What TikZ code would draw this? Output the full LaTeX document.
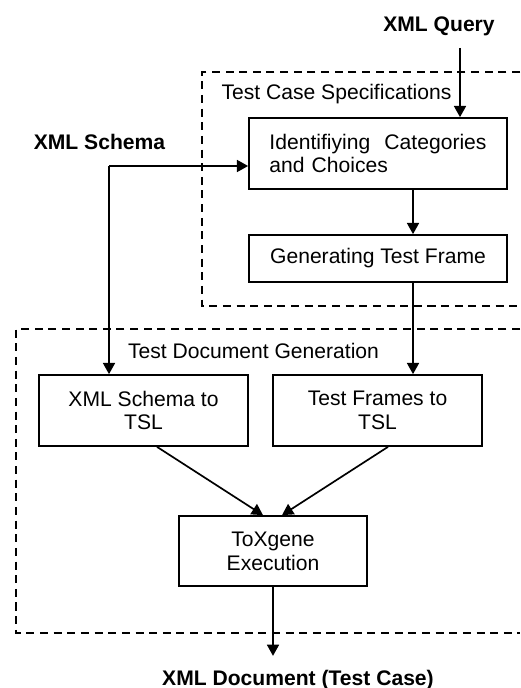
\documentclass[tikz,border=0pt]{standalone}
\usepackage{fontspec}
\setmainfont{Liberation Sans}
\usetikzlibrary{arrows.meta,calc}

\begin{document}
\begin{tikzpicture}[x=0.025cm,y=-0.025cm,
    font=\fontsize{15}{17}\selectfont,
    >={Triangle[length=0.28cm,width=0.3cm]},
    box/.style={rectangle,draw,line width=1.2pt,align=center,inner sep=0pt},
    wide/.style={box,minimum width=6.45cm},
    tsl/.style={box,minimum width=5.225cm,minimum height=1.775cm},
    group/.style={draw,line width=1pt,dash pattern=on 5.7pt off 4pt},
    flow/.style={->,line width=1.2pt},
    ext/.style={font=\fontsize{15}{17}\selectfont\bfseries},]
\useasboundingbox (0,0) rectangle (520,688);
% dashed groups
\draw[group] (520,72) -| (202,306) -- (520,306);
\draw[group] (520,329) -| (16,633) -- (520,633);
\node (spec) at (336.5,94) {Test Case Specifications};
\node (gentitle) at (253.5,351) {Test Document Generation};
% steps
\node[wide,minimum height=1.775cm,text width=5.425cm,align=left] (ident) at (378,153.5) {Identifiying\hfill Categories\\and Choices};
\node[wide,minimum height=1.175cm] (gen) at (378,258.5) {Generating Test Frame};
\node[tsl] (s2t) at (143.5,410.5) {XML Schema to\\TSL};
\node[tsl] (f2t) at (377.5,410.5) {Test Frames to\\TSL};
\node[box,minimum width=4.7cm,minimum height=1.75cm] (tox) at (273,551) {ToXgene\\Execution};
% inputs and output
\node[ext] (query) at (439,26) {XML Query};
\node[ext] (schema) at (99.5,142) {XML Schema};
\node[ext] (doc) at (298,680) {XML Document (Test Case)};
% connectors
\coordinate (qin) at (460,48);
\draw[flow] (qin) -- (qin |- ident.north);
\coordinate (split) at (109,166);
\draw[flow] (split) -- (split -| ident.west);
\draw[flow] (split) -- (split |- s2t.north);
\coordinate (trunk) at (413,0);
\draw[flow] (ident.south -| trunk) -- (gen.north -| trunk);
\draw[flow] (gen.south -| trunk) -- (f2t.north -| trunk);
\draw[flow] ($(s2t.south)+(13.5,0)$) -- ($(tox.north)+(-10,0)$);
\draw[flow] ($(f2t.south)+(10.5,0)$) -- ($(tox.north)+(9,0)$);
\draw[flow] (tox.south) -- ++(0,69);
\end{tikzpicture}
\end{document}
